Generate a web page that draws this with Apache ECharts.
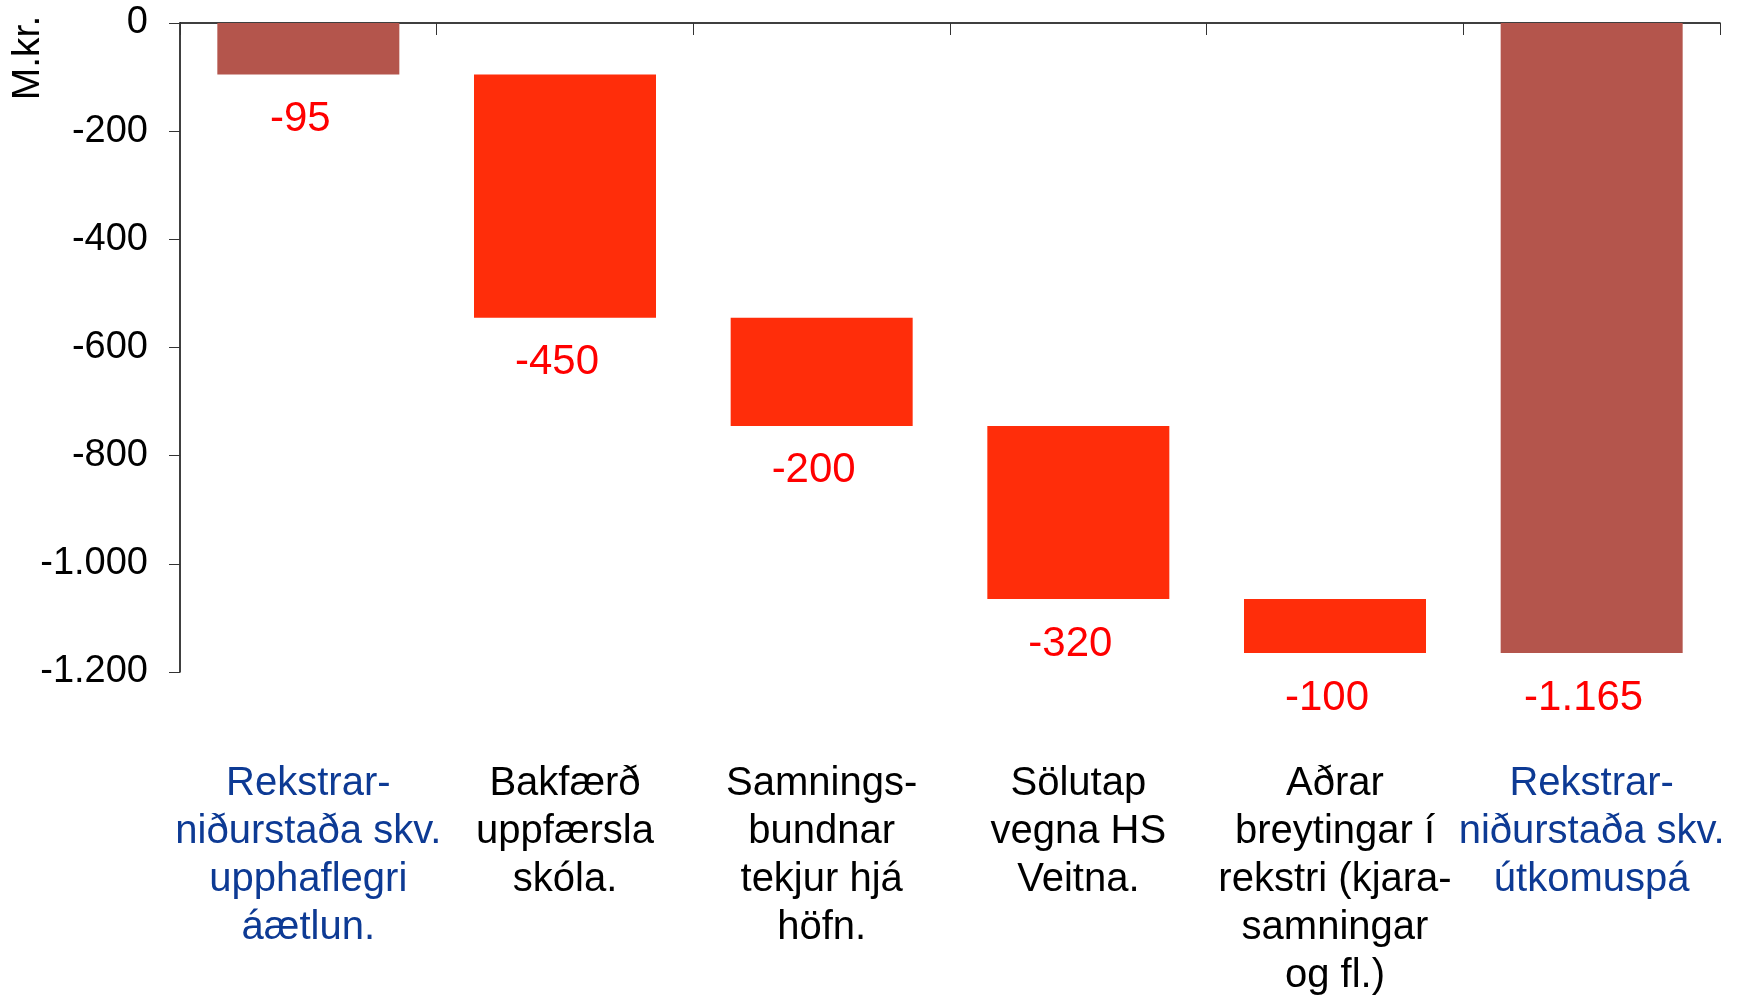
<!DOCTYPE html>
<html>
<head>
<meta charset="utf-8">
<script src="https://cdn.jsdelivr.net/npm/echarts@6/dist/echarts.min.js"></script>
<style>
  html, body { margin: 0; padding: 0; background: #fff; }
  #chart { width: 1753px; height: 1000px; }
</style>
</head>
<body>
<div id="chart"></div>
<script>
var categories = [
	'Rekstrar-\nniðurstaða skv.\nupphaflegri\náætlun.',
	'Bakfærð\nuppfærsla\nskóla.',
	'Samnings-\nbundnar\ntekjur hjá\nhöfn.',
	'Sölutap\nvegna HS\nVeitna.',
	'Aðrar\nbreytingar í\nrekstri (kjara-\nsamningar\nog fl.)',
	'Rekstrar-\nniðurstaða skv.\nútkomuspá'
];
var changes = [-95, -450, -200, -320, -100, -1165];
var isTotal = [true, false, false, false, false, true];
var yTicks = { min: -1200, max: 0, step: 200 };

var fontFamily = '"Liberation Sans", Arial, sans-serif';

// base under each bar (invisible helper)
var base = [];
var run = 0;
changes.forEach(function(v, i) {
	if (isTotal[i]) {
		base.push(0);
	} else {
		base.push(run);
	}
	run = isTotal[i] ? v : run + v;
});

function fmt(v) {
	var s = Math.abs(v).toString().replace(/\B(?=(\d{3})+(?!\d))/g, '.');
	return (v < 0 ? '-' : '') + s;
}

var myChart = echarts.init(document.getElementById('chart'));

option = {
	animation: false,
	grid: {
		left: 180,
		right: 33,
		top: 23,
		bottom: 327
	},
	graphic: [{
		type: 'text',
		x: 28,
		y: 58,
		rotation: Math.PI / 2,
		style: {
			text: 'M.kr.',
			fontSize: 39,
			fontFamily: fontFamily,
			fill: '#000',
			align: 'center',
			verticalAlign: 'middle'
		}
	}],
	xAxis: [{
		type: 'category',
		data: categories,
		axisLine: { onZero: true, lineStyle: { color: '#000', width: 1.5 } },
		axisTick: { show: true, length: 12, lineStyle: { color: '#333' } },
		axisLabel: { show: false }
	}, {
		type: 'category',
		data: categories,
		position: 'bottom',
		axisLine: { show: false, onZero: false },
		axisTick: { show: false },
		axisLabel: {
			interval: 0,
			margin: 88,
			fontSize: 40,
			lineHeight: 48,
			fontFamily: fontFamily,
			verticalAlign: 'top',
			color: function(val, idx) {
				return isTotal[idx] ? '#0D3A94' : '#000';
			}
		}
	}],
	yAxis: {
		type: 'value',
		min: yTicks.min,
		max: yTicks.max,
		interval: yTicks.step,
		splitLine: { show: false },
		axisLine: { show: true, lineStyle: { color: '#000', width: 1.5 } },
		axisTick: { show: true, length: 11, lineStyle: { color: '#333' } },
		axisLabel: {
			margin: 32,
			fontSize: 38,
			fontFamily: fontFamily,
			color: '#000',
			formatter: function(v) { return fmt(v); }
		}
	},
	series: [{
		type: 'bar',
		stack: 'w',
		barWidth: 182,
		silent: true,
		itemStyle: { color: 'transparent' },
		data: base
	}, {
		type: 'bar',
		stack: 'w',
		barWidth: 182,
		data: changes.map(function(v, i) {
			return {
				value: v,
				itemStyle: { color: isTotal[i] ? '#B4554C' : '#FF2D0A' }
			};
		}),
		label: {
			show: true,
			position: 'bottom',
			distance: 22,
			offset: [-8, 0],
			fontSize: 42,
			lineHeight: 46,
			fontFamily: fontFamily,
			color: '#FF0000',
			formatter: function(p) { return fmt(p.value); }
		}
	}]
};

myChart.setOption(option);
</script>
</body>
</html>
